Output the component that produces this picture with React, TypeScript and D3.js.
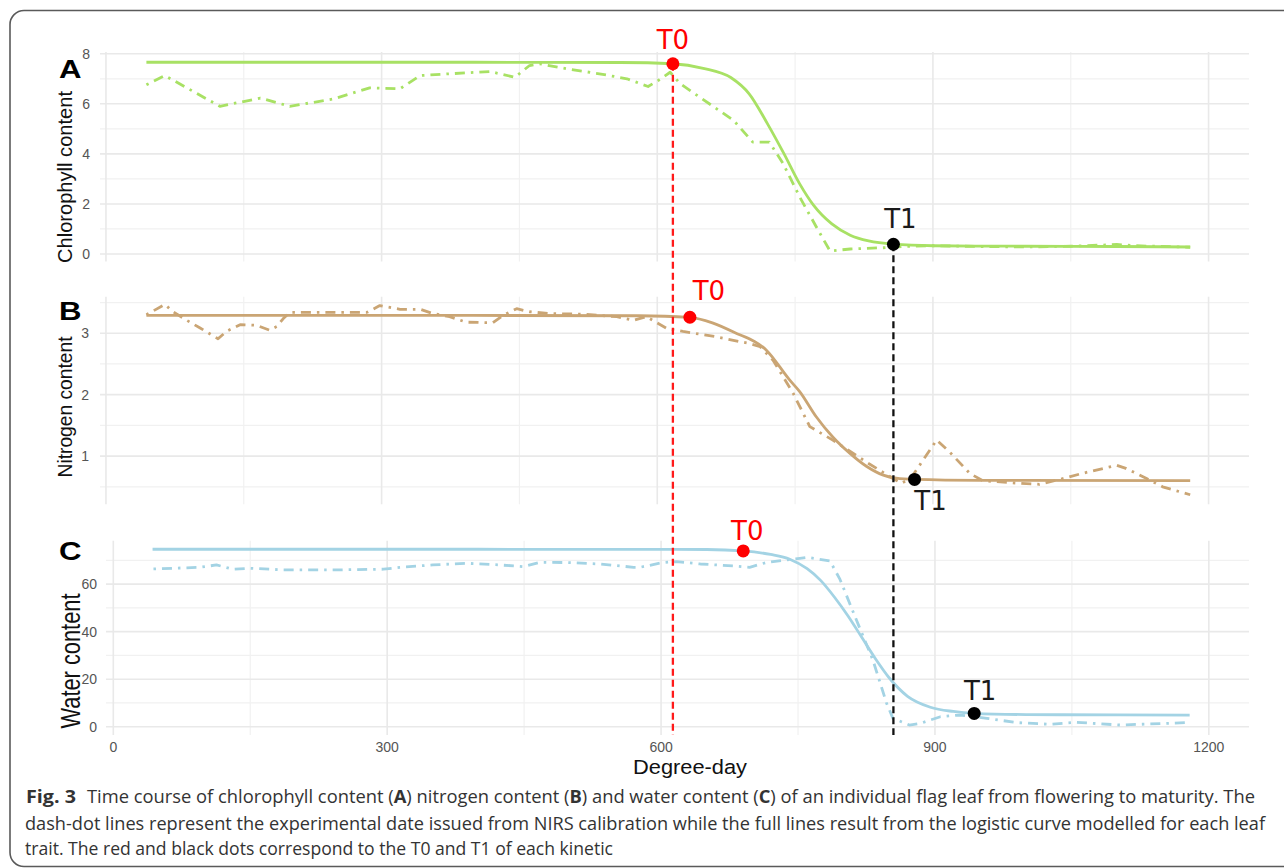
import React from 'react';
import * as d3 from 'd3';

type P = [number, number];

// ---- data (degree-day, value) ----
const X_MAJOR = [0, 300, 600, 900, 1200];
const X_MINOR = [150, 450, 750, 1050];

const chlFit: P[] = [[44,7.66],[400,7.66],[560,7.65],[617,7.6],[650,7.42],[680,7.05],[700,6.4],[720,5.2],[738,4.0],[755,2.8],[770,1.95],[790,1.2],[810,0.75],[830,0.52],[857,0.39],[900,0.33],[1000,0.31],[1100,0.3],[1180,0.28]];
const chlObs: P[] = [[44,6.76],[64,7.13],[124,5.9],[168,6.23],[200,5.9],[247,6.19],[287,6.64],[320,6.6],[342,7.13],[374,7.2],[418,7.29],[445,7.06],[461,7.53],[472,7.6],[501,7.4],[537,7.2],[567,7.0],[590,6.69],[601,6.93],[614,7.26],[625,6.8],[646,6.27],[683,5.34],[704,4.47],[722,4.47],[737,3.61],[755,2.28],[773,1.09],[788,0.12],[810,0.2],[846,0.25],[870,0.3],[900,0.33],[950,0.3],[1000,0.28],[1050,0.31],[1080,0.35],[1100,0.38],[1120,0.33],[1150,0.3],[1180,0.27]];
const chlT0: P = [617, 7.6];
const chlT1: P = [857, 0.39];

const nitFit: P[] = [[44,3.29],[400,3.29],[580,3.285],[635,3.26],[660,3.17],[683,3.02],[719,2.72],[744,2.24],[755,2.05],[773,1.64],[791,1.31],[810,1.04],[828,0.83],[846,0.69],[860,0.64],[880,0.62],[950,0.605],[1180,0.6]];
const nitObs: P[] = [[44,3.3],[64,3.47],[73,3.35],[88,3.21],[102,3.09],[122,2.91],[131,3.03],[146,3.14],[164,3.13],[178,3.05],[186,3.11],[193,3.24],[200,3.34],[284,3.34],[298,3.45],[320,3.39],[342,3.39],[356,3.32],[374,3.27],[392,3.18],[421,3.17],[432,3.29],[447,3.4],[461,3.35],[483,3.32],[519,3.31],[556,3.27],[574,3.21],[588,3.27],[610,3.08],[628,3.03],[665,2.94],[701,2.83],[712,2.78],[726,2.56],[748,2.02],[759,1.69],[766,1.48],[791,1.26],[830,0.88],[856,0.64],[866,0.56],[876,0.64],[904,1.26],[918,1.07],[940,0.72],[954,0.6],[991,0.56],[1016,0.54],[1038,0.62],[1063,0.72],[1100,0.85],[1110,0.8],[1132,0.64],[1150,0.5],[1180,0.37]];
const nitT0: P = [635.5, 3.26];
const nitT1: P = [880, 0.62];

const watFit: P[] = [[43,74.7],[400,74.7],[650,74.6],[690,74.0],[720,72.5],[741,70.5],[760,66.5],[775,61.5],[790,54.5],[805,46.5],[820,37.5],[835,28.5],[850,20.5],[870,12.8],[895,8.2],[920,6.4],[943,5.6],[1000,5.1],[1100,4.95],[1179,4.9]];
const watObs: P[] = [[44,66.4],[66,66.7],[95,67.1],[113,68.1],[131,66.3],[150,66.7],[186,66.0],[241,66.0],[296,66.3],[314,67.1],[350,68.1],[387,68.8],[423,68.1],[449,67.4],[467,69.2],[497,69.1],[533,68.5],[570,67.1],[577,67.1],[602,69.1],[617,69.5],[643,68.5],[679,67.7],[697,67.1],[716,69.2],[737,70.2],[752,70.9],[760,71.3],[785,69.8],[796,62],[814,44.9],[832,28.1],[847,9.9],[854,3.5],[872,0.7],[884,1.4],[906,4.2],[927,4.9],[957,3.5],[990,1.7],[1026,1.0],[1055,1.85],[1073,1.4],[1103,0.7],[1132,1.1],[1176,1.7]];
const watT0: P = [690, 74.0];
const watT1: P = [943, 5.6];

const chlTicks = [0, 2, 4, 6, 8];
const chlMinor = [1, 3, 5, 7];
const nitTicks = [1, 2, 3];
const nitMinor = [0.5, 1.5, 2.5, 3.5];
const watTicks = [0, 20, 40, 60];
const watMinor = [10, 30, 50, 70];

// ---- layout ----
const W = 1284, H = 868;
const FONT = "'Liberation Sans', Arial, Helvetica, sans-serif";
const LBL = "'DejaVu Sans', sans-serif";

const panels = [
  {
    letter: 'A', letterY: 78, title: 'Chlorophyll content', titleSize: 20.5, titleLen: 172, titleX: 71.5, titleY: 177, tickRight: 90,
    xDomain: [-6.5, 1244], xRange: [100, 1249], yDomain: [-0.3, 8.07], yRange: [261.5, 52],
    yTicks: chlTicks, yMinor: chlMinor, fit: chlFit, obs: chlObs, t0: chlT0, t1: chlT1,
    color: '#a8e164', t0Lbl: [0, -15], t1Lbl: [7, -16],
  },
  {
    letter: 'B', letterY: 320, title: 'Nitrogen content', titleSize: 19.8, titleLen: 141, titleX: 72, titleY: 407, tickRight: 89,
    xDomain: [-6.5, 1244], xRange: [100, 1249], yDomain: [0.215, 3.595], yRange: [504.3, 296.7],
    yTicks: nitTicks, yMinor: nitMinor, fit: nitFit, obs: nitObs, t0: nitT0, t1: nitT1,
    color: '#caa574', t0Lbl: [19, -17], t1Lbl: [16, 31],
  },
  {
    letter: 'C', letterY: 560, title: 'Water content', titleSize: 28, titleLen: 135, titleX: 79.5, titleY: 661, tickRight: 97,
    xDomain: [-8, 1244], xRange: [106, 1249], yDomain: [-3.5, 78.3], yRange: [735, 540.7],
    yTicks: watTicks, yMinor: watMinor, fit: watFit, obs: watObs, t0: watT0, t1: watT1,
    color: '#a3d3e4', t0Lbl: [4, -11], t1Lbl: [6, -13],
  },
];

export default function App() {
  const built = panels.map((p) => {
    const x = d3.scaleLinear().domain(p.xDomain).range(p.xRange);
    const y = d3.scaleLinear().domain(p.yDomain).range(p.yRange);
    const line = d3.line<P>().x((d) => x(d[0])).y((d) => y(d[1]));
    const fitLine = d3.line<P>().x((d) => x(d[0])).y((d) => y(d[1])).curve(d3.curveMonotoneX);
    return { p, x, y, line, fitLine };
  });
  const A = built[0];
  const C = built[2];
  const bottom = C.p.yRange[0];

  return (
    <svg width={W} height={H} viewBox={`0 0 ${W} ${H}`}
      style={{ position: 'absolute', left: 0, top: 0, display: 'block', background: '#fff' }}>
      <rect x={10} y={10.5} width={1300} height={856} rx={14} fill="#fff" stroke="#5a5a5a" strokeWidth={1.6} />
      {built.map(({ p, x, y, line, fitLine }, i) => {
        const [x0, x1] = p.xRange;
        const [yb, yt] = p.yRange;
        return (
          <g key={i}>
            {p.yMinor.map((v) => (
              <line key={'ym' + v} x1={x0} x2={x1} y1={y(v)} y2={y(v)} stroke="#f1f1f1" strokeWidth={1.2} />
            ))}
            {X_MINOR.map((v) => (
              <line key={'xm' + v} x1={x(v)} x2={x(v)} y1={yt} y2={yb} stroke="#f1f1f1" strokeWidth={1.2} />
            ))}
            {p.yTicks.map((v) => (
              <line key={'yM' + v} x1={x0} x2={x1} y1={y(v)} y2={y(v)} stroke="#e9e9e9" strokeWidth={1.6} />
            ))}
            {X_MAJOR.map((v) => (
              <line key={'xM' + v} x1={x(v)} x2={x(v)} y1={yt} y2={yb} stroke="#e9e9e9" strokeWidth={1.6} />
            ))}
            {p.yTicks.map((v) => (
              <text key={'yt' + v} x={p.tickRight} y={y(v)} dy="0.36em" textAnchor="end"
                fontFamily={FONT} fontSize={14} fill="#555">{v}</text>
            ))}
            <text x={59} y={p.letterY} fontFamily={FONT} fontWeight="bold" fontSize={26} fill="#000"
              textLength={22.5} lengthAdjust="spacingAndGlyphs">{p.letter}</text>
            <text transform={`translate(${p.titleX},${p.titleY}) rotate(-90)`} textAnchor="middle"
              fontFamily={FONT} fontSize={p.titleSize} fill="#111"
              textLength={p.titleLen} lengthAdjust="spacingAndGlyphs">{p.title}</text>
            <path d={line(p.obs) || ''} fill="none" stroke={p.color} strokeWidth={2.8}
              strokeDasharray="2.5,6,10,6" strokeLinejoin="round" />
            <path d={fitLine(p.fit) || ''} fill="none" stroke={p.color} strokeWidth={2.8} />
          </g>
        );
      })}
      {X_MAJOR.map((v) => (
        <text key={'xt' + v} x={C.x(v)} y={752} textAnchor="middle" fontFamily={FONT} fontSize={14} fill="#555">{v}</text>
      ))}
      <text x={690} y={774} textAnchor="middle" fontFamily={FONT} fontSize={20.5} fill="#111"
        textLength={114} lengthAdjust="spacingAndGlyphs">Degree-day</text>
      <line x1={A.x(chlT0[0])} x2={A.x(chlT0[0])} y1={A.y(chlT0[1])} y2={bottom}
        stroke="#ff1a1a" strokeWidth={2.3} strokeDasharray="7,4" />
      <line x1={A.x(chlT1[0])} x2={A.x(chlT1[0])} y1={A.y(chlT1[1])} y2={bottom}
        stroke="#111" strokeWidth={2.3} strokeDasharray="7,4" />
      {built.map(({ p, x, y }, i) => (
        <g key={'m' + i}>
          <circle cx={x(p.t0[0])} cy={y(p.t0[1])} r={6.5} fill="#ff0000" />
          <circle cx={x(p.t1[0])} cy={y(p.t1[1])} r={6.5} fill="#000" />
          <text x={x(p.t0[0]) + p.t0Lbl[0]} y={y(p.t0[1]) + p.t0Lbl[1]} textAnchor="middle"
            fontFamily={LBL} fontSize={26} fill="#ff0000">T0</text>
          <text x={x(p.t1[0]) + p.t1Lbl[0]} y={y(p.t1[1]) + p.t1Lbl[1]} textAnchor="middle"
            fontFamily={LBL} fontSize={26} fill="#1a1a1a">T1</text>
        </g>
      ))}
      <g fontFamily="'Open Sans', 'Noto Sans', sans-serif" fontSize={18} fill="#333">
        <text x={26} y={803} fontWeight="bold" textLength={50} lengthAdjust="spacingAndGlyphs">Fig. 3</text>
        <text x={87} y={803} textLength={1168} lengthAdjust="spacingAndGlyphs">
          Time course of chlorophyll content (<tspan fontWeight="bold">A</tspan>) nitrogen content (<tspan fontWeight="bold">B</tspan>) and water content (<tspan fontWeight="bold">C</tspan>) of an individual flag leaf from flowering to maturity. The
        </text>
        <text x={25} y={830} textLength={1240} lengthAdjust="spacingAndGlyphs">
          dash-dot lines represent the experimental date issued from NIRS calibration while the full lines result from the logistic curve modelled for each leaf
        </text>
        <text x={25} y={855} textLength={588} lengthAdjust="spacingAndGlyphs">
          trait. The red and black dots correspond to the T0 and T1 of each kinetic
        </text>
      </g>
    </svg>
  );
}
